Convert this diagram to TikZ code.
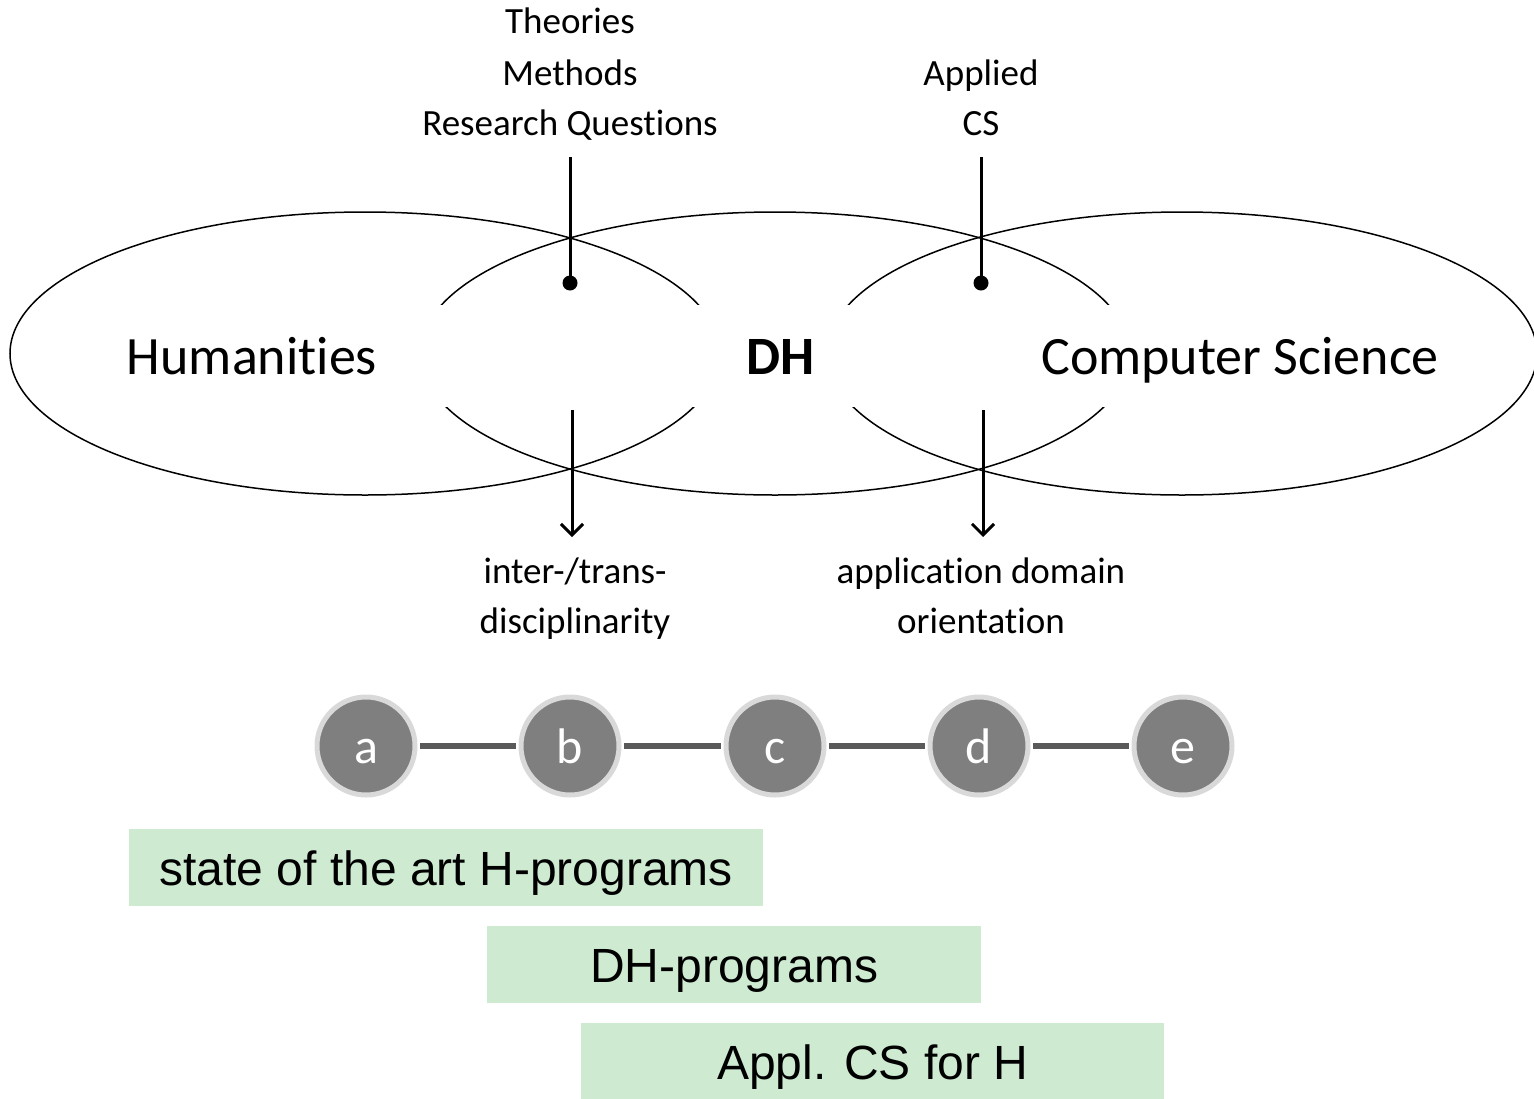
\documentclass[tikz,border=0pt]{standalone}
\usepackage{fontspec}
\setmainfont{Carlito}[RawFeature=-liga]
\newfontfamily\boxfont{Liberation Sans}
\usetikzlibrary{positioning, arrows.meta, shapes.geometric}
\definecolor{dotgray}{HTML}{7F7F7F}
\definecolor{dotring}{HTML}{D9D9D9}
\definecolor{linkgray}{HTML}{595959}
\definecolor{boxgreen}{HTML}{CEEBD1}

\begin{document}
\begin{tikzpicture}[
  x=1pt, y=-1pt,
  >={Straight Barb[length=11pt, width=22pt, line width=3pt]},
  field/.style = {draw, ellipse, line width=1.5pt, minimum width=710pt,
                  minimum height=283pt, inner sep=0pt},
  big/.style = {font=\fontsize{54}{60}\selectfont, anchor=base, inner sep=0pt},
  lbl/.style = {font=\fontsize{37}{44}\selectfont, anchor=base, inner sep=0pt},
  pin/.style = {line width=3pt},
  stage/.style = {circle, fill=dotgray, draw=dotring, line width=5pt,
                  minimum size=98pt, inner sep=0pt, text=white,
                  text height=34pt, text depth=0pt,
                  font=\fontsize{50}{50}\selectfont},
  link/.style = {draw=linkgray, line width=6pt, shorten <=2.5pt, shorten >=2.5pt},
  prog/.style = {fill=boxgreen, anchor=north west, inner sep=0pt,
                 minimum height=77pt, text height=36pt, text depth=0pt,
                 font=\boxfont\fontsize{48}{48}\selectfont}
]
\useasboundingbox (0,0) rectangle (1534,1098);

% three overlapping fields
\node[field] (hum) at (365,353.5) {};
\node[field] (dhf) at (775,353.5) {};
\node[field] (csf) at (1182,353.5) {};

% white band for the middle row of names
\fill[white] (418,305) rectangle (1135,407);

\node[big] (humt) at (252,374) {Humanities};
\node[big, font=\fontsize{54}{60}\selectfont\bfseries] (dht) at (781,374) {DH};
\node[big] (cst) at (1240,374) {Computer Science};

% inputs from above
\node[lbl] (thy) at (570,33) {Theories};
\node[lbl] (mth) at (570,85) {Methods};
\node[lbl] (rq) at (570,135) {Research Questions};
\node[lbl] (app) at (981,85) {Applied};
\node[lbl] (acs) at (981,135) {CS};

\coordinate (hin) at (570,157);
\coordinate (cin) at (981,157);
\node[circle, fill, inner sep=0pt, minimum size=15pt] (hdot) at (570,283) {};
\node[circle, fill, inner sep=0pt, minimum size=15pt] (cdot) at (981,283) {};
\draw[pin] (hin) -- (hdot.center);
\draw[pin] (cin) -- (cdot.center);

% outputs below
\coordinate (hfrom) at (572,410);
\coordinate (hto) at (572,537);
\coordinate (cfrom) at (983,410);
\coordinate (cto) at (983,537);
\draw[pin, ->] (hfrom) -- (hto);
\draw[pin, ->] (cfrom) -- (cto);

\node[lbl] (itr) at (575,583) {inter-/trans-};
\node[lbl] (dsc) at (575,633) {disciplinarity};
\node[lbl] (apd) at (981,583) {application domain};
\node[lbl] (ori) at (981,633) {orientation};

% stages a-e
\foreach \n/\x in {a/366, b/570, c/775, d/979, e/1183}
  \node[stage] (\n) at (\x,746) {\n};
\draw[link] (a) -- (b);
\draw[link] (b) -- (c);
\draw[link] (c) -- (d);
\draw[link] (d) -- (e);

% programmes
\node[prog, minimum width=634pt] (sota) at (129,829) {state of the art H-programs};
\node[prog, minimum width=494pt] (dhp) at (487,926) {DH-programs};
\node[prog, minimum width=583pt] (acs4h) at (581,1023) {Appl. CS for H};

\end{tikzpicture}
\end{document}
